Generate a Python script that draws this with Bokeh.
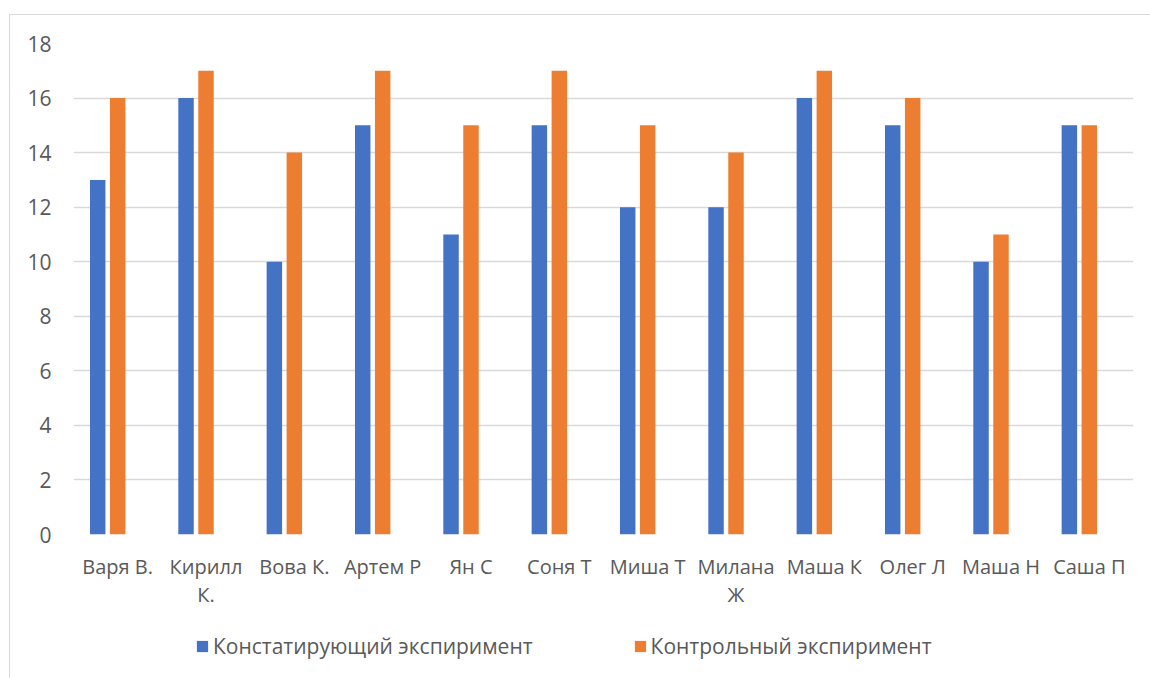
from bokeh.plotting import figure
from bokeh.layouts import column
from bokeh.models import (ColumnDataSource, FactorRange, Range1d, FixedTicker,
                          Legend, LegendItem)
from bokeh.transform import dodge
from bokeh.embed import file_html
from bokeh.resources import INLINE

names = ["Варя В.", "Кирилл\nК.", "Вова К.", "Артем Р", "Ян С", "Соня Т",
         "Миша Т", "Милана\nЖ", "Маша К", "Олег Л", "Маша Н", "Саша П"]
ascertaining = [13, 16, 10, 15, 11, 15, 12, 12, 16, 15, 10, 15]
control = [16, 17, 14, 17, 15, 17, 15, 14, 17, 16, 11, 15]
series_names = ["Констатирующий экспиримент", "Контрольный экспиримент"]
y_ticks = [0, 2, 4, 6, 8, 10, 12, 14, 16, 18]

BLUE = "#4472C4"
ORANGE = "#ED7D31"
GRID = "#D9D9D9"
TEXT = "#595959"
FONT = "Open Sans"

src = ColumnDataSource(dict(name=names, a=ascertaining, c=control))

p = figure(x_range=FactorRange(*names, range_padding=0),
           y_range=Range1d(0, 18),
           width=1140, height=605,
           output_backend="svg", toolbar_location=None,
           min_border_left=63, min_border_right=17,
           min_border_top=28, min_border_bottom=86,
           outline_line_color=None)

bar_kw = dict(width=0.175, source=src, line_color=None)
r1 = p.vbar(x=dodge("name", -0.226, range=p.x_range), top="a", fill_color=BLUE, **bar_kw)
r2 = p.vbar(x=dodge("name", 0.0, range=p.x_range), top="c", fill_color=ORANGE, **bar_kw)

p.xgrid.grid_line_color = None
p.ygrid.grid_line_color = GRID
p.ygrid.grid_line_width = 1.3
p.yaxis.ticker = FixedTicker(ticks=y_ticks)

for ax in (p.xaxis, p.yaxis):
    ax.axis_line_color = None
    ax.major_tick_line_color = None
    ax.minor_tick_line_color = None
    ax.major_label_text_font = FONT
    ax.major_label_text_color = TEXT
p.xaxis.major_label_text_font_size = "20px"
p.yaxis.major_label_text_font_size = "21px"
p.xaxis.major_label_text_line_height = 1.05
p.yaxis.major_label_standoff = 16
p.xaxis.major_label_standoff = 12

# legend strip below the chart: same series, drawn out of view, used only for keys
lg = figure(width=1140, height=58, x_range=p.x_range, y_range=Range1d(100, 101),
            output_backend="svg", toolbar_location=None,
            min_border=0, outline_line_color=None)
lg.axis.visible = False
lg.grid.visible = False
k1 = lg.vbar(x=dodge("name", -0.226, range=p.x_range), top="a", fill_color=BLUE, **bar_kw)
k2 = lg.vbar(x=dodge("name", 0.0, range=p.x_range), top="c", fill_color=ORANGE, **bar_kw)

legend = Legend(items=[LegendItem(label=series_names[0], renderers=[k1]),
                       LegendItem(label=series_names[1], renderers=[k2])],
                orientation="horizontal", location=(122, 18),
                glyph_width=14, glyph_height=14, label_standoff=4,
                spacing=100, padding=0, margin=0,
                border_line_color=None, background_fill_alpha=0,
                label_text_font=FONT, label_text_font_size="21px",
                label_text_color=TEXT, label_height=14)
lg.add_layout(legend, "center")

layout = column(p, lg, spacing=0)
layout.styles = {"margin-left": "9px", "margin-top": "14px",
                 "border-left": "1px solid #D9D9D9", "border-top": "1px solid #D9D9D9"}

open("out.html", "w").write(file_html(layout, INLINE))
